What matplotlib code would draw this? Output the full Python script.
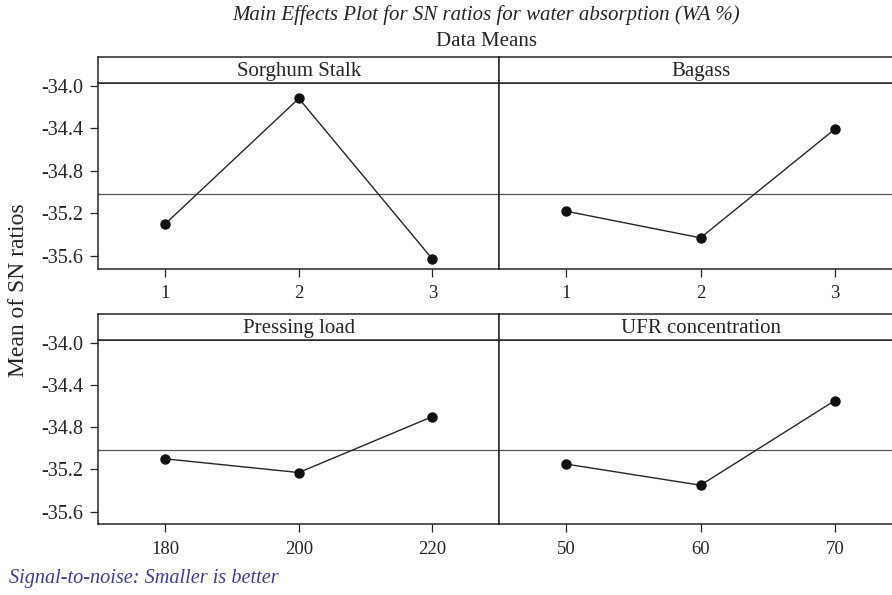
import matplotlib.pyplot as plt
import numpy as np

plt.rcParams["font.family"] = ["Liberation Serif", "DejaVu Serif"]

# Taguchi main effects: mean S/N ratio at each factor level
factors = ["Sorghum Stalk", "Bagass", "Pressing load", "UFR concentration"]
levels_sorghum = ["1", "2", "3"]
levels_bagass = ["1", "2", "3"]
levels_load = ["180", "200", "220"]
levels_ufr = ["50", "60", "70"]
sn_sorghum = [-35.30, -34.12, -35.63]
sn_bagass = [-35.18, -35.43, -34.41]
sn_load = [-35.10, -35.23, -34.70]
sn_ufr = [-35.15, -35.35, -34.55]
overall_mean = -35.02
y_ticks = [-34.0, -34.4, -34.8, -35.2, -35.6]

W, H = 892, 595
fig = plt.figure(figsize=(W / 100, H / 100), dpi=100)


def px(left, top, right, bottom):
    return [left / W, 1 - bottom / H, (right - left) / W, (bottom - top) / H]


ink = "#262626"
panels = [
    (factors[0], levels_sorghum, sn_sorghum, 98.3, 499.3, 57.3, 83.0, 268.7, True),
    (factors[1], levels_bagass, sn_bagass, 499.3, 901.7, 57.3, 83.0, 268.7, False),
    (factors[2], levels_load, sn_load, 98.3, 499.3, 314.0, 340.0, 524.3, True),
    (factors[3], levels_ufr, sn_ufr, 499.3, 901.7, 314.0, 340.0, 524.3, False),
]

for name, levels, values, x0, x1, htop, dtop, dbot, show_y in panels:
    ax = fig.add_axes(px(x0, dtop, x1, dbot))
    x = np.arange(1, len(levels) + 1)
    ax.axhline(overall_mean, color="#555555", lw=0.9, zorder=1)
    ax.plot(x, values, color=ink, lw=1.0, zorder=2)
    ax.plot(x, values, "o", ms=6.5, color="#111111", mec="#111111", zorder=3)
    ax.set_xlim(0.5, 3.5)
    ax.set_ylim(-35.72, -33.975)
    ax.set_xticks(x)
    ax.set_xticklabels(levels)
    ax.set_yticks(y_ticks)
    ax.set_yticklabels([f"{v:.1f}" for v in y_ticks])
    ax.tick_params(direction="out", length=6, width=0.9, color=ink,
                   labelcolor=ink)
    ax.tick_params(axis="x", labelsize=13.5, pad=6)
    ax.tick_params(axis="y", labelsize=14.5, pad=5)
    if not show_y:
        ax.tick_params(axis="y", left=False, labelleft=False)
    for s in ax.spines.values():
        s.set_color(ink)
        s.set_linewidth(1.1)

    # panel header strip
    hx = fig.add_axes(px(x0, htop, x1, dtop))
    hx.set_xticks([])
    hx.set_yticks([])
    for s in hx.spines.values():
        s.set_color(ink)
        s.set_linewidth(1.1)
    hx.text(0.5, 0.45, name, transform=hx.transAxes, ha="center", va="center",
            fontsize=15, color=ink)

fig.text(486 / W, 1 - 15 / H,
         "Main Effects Plot for SN ratios for water absorption (WA %)",
         ha="center", va="center", fontsize=15, style="italic", color=ink)
fig.text(486 / W, 1 - 41 / H, "Data Means", ha="center", va="center",
         fontsize=15, color=ink)
fig.text(19 / W, 1 - 290 / H, "Mean of SN ratios", rotation=90,
         ha="center", va="center", fontsize=17, color=ink)
fig.text(9 / W, 1 - 578 / H, "Signal-to-noise: Smaller is better",
         ha="left", va="center", fontsize=14.6, style="italic", color="#3d3d99")

fig.savefig("out.png", dpi=100)
